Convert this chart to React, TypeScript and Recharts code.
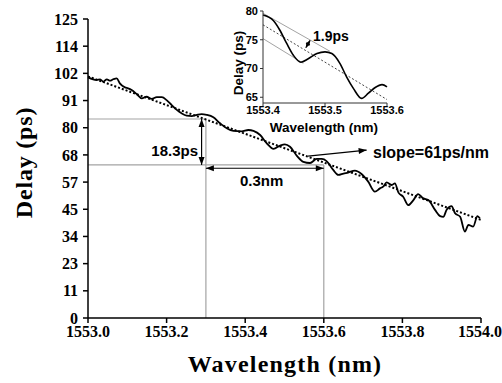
import React from 'react';
import { LineChart, Line, XAxis, YAxis, ReferenceLine } from 'recharts';

// main trace
const mainWl = [
  1553.0, 1553.022, 1553.031, 1553.039, 1553.048, 1553.056, 1553.064, 1553.073, 1553.081, 1553.094,
  1553.102, 1553.111, 1553.124, 1553.137, 1553.149, 1553.162, 1553.175, 1553.188, 1553.2, 1553.213,
  1553.226, 1553.238, 1553.251, 1553.264, 1553.277, 1553.289, 1553.302, 1553.319, 1553.336, 1553.353,
  1553.37, 1553.391, 1553.408, 1553.421, 1553.438, 1553.455, 1553.472, 1553.489, 1553.501, 1553.514,
  1553.531, 1553.548, 1553.565, 1553.582, 1553.595, 1553.607, 1553.624, 1553.637, 1553.65, 1553.662,
  1553.679, 1553.696, 1553.713, 1553.73, 1553.743, 1553.751, 1553.76, 1553.773, 1553.781, 1553.79,
  1553.802, 1553.815, 1553.828, 1553.84, 1553.853, 1553.866, 1553.883, 1553.896, 1553.904, 1553.913,
  1553.925, 1553.934, 1553.947, 1553.959, 1553.968, 1553.98, 1553.991, 1553.997,
];
const mainDelay = [
  100.6, 99.5, 99.8, 98.8, 99.8, 99.2, 99.8, 100.2, 98.1, 96.4,
  96.0, 95.3, 93.6, 91.8, 92.5, 91.6, 92.3, 92.3, 91.1, 89.0,
  87.0, 85.6, 84.6, 84.4, 84.9, 85.2, 84.9, 83.9, 81.4, 79.3,
  78.2, 78.0, 78.6, 78.2, 76.5, 73.0, 70.7, 72.1, 72.6, 71.6,
  67.9, 65.3, 64.8, 66.5, 66.5, 65.6, 61.9, 59.8, 60.4, 60.8,
  61.6, 60.2, 57.0, 52.8, 54.2, 54.9, 56.7, 55.6, 56.3, 52.4,
  50.7, 47.2, 49.3, 51.8, 50.0, 49.3, 45.2, 42.6, 42.3, 45.4,
  46.8, 43.8, 42.3, 36.1, 38.9, 38.2, 42.6, 41.7,
];
const fitWl = [1553.0, 1554.0];
const fitDelay = [101, 41];

const xTicks = [1553.0, 1553.2, 1553.4, 1553.6, 1553.8, 1554.0];
const yTickLabels = ['0', '11', '23', '34', '45', '57', '68', '80', '91', '102', '114', '125'];
const yTicks = yTickLabels.map((_, i) => (i * 125) / 11);

// annotation levels (ps) and marks (nm)
const upperLevel = 83.2;
const lowerLevel = 64;
const leftMark = 1553.3;
const rightMark = 1553.6;

// inset trace
const insetWl = [
  1553.4, 1553.417, 1553.427, 1553.438, 1553.449, 1553.461, 1553.473, 1553.487, 1553.5, 1553.511,
  1553.524, 1553.535, 1553.546, 1553.559, 1553.57, 1553.581, 1553.592, 1553.6,
];
const insetDelay = [
  79.3, 78.3, 76.7, 74.4, 72.3, 71.1, 71.7, 72.6, 72.9, 72.6,
  70.9, 68.5, 66.5, 64.8, 65.7, 66.7, 67.2, 66.8,
];
const insetFitWl = [1553.4, 1553.6];
const insetFitDelay = [77.6, 64.6];
const insetXTicks = [1553.4, 1553.5, 1553.6];
const insetYTicks = [65, 70, 75, 80];

const mainData = mainWl.map((x, i) => ({ x, y: mainDelay[i] }));
const fitData = fitWl.map((x, i) => ({ x, y: fitDelay[i] }));
const insetData = insetWl.map((x, i) => ({ x, y: insetDelay[i] }));
const insetFitData = insetFitWl.map((x, i) => ({ x, y: insetFitDelay[i] }));

const serif = '"Liberation Serif", "Times New Roman", serif';
const sans = '"Liberation Sans", Arial, sans-serif';

const head = (xa: number, ya: number, xb: number, yb: number, len = 8, w = 3) => {
  const a = Math.atan2(yb - ya, xb - xa);
  const c = Math.cos(a), s = Math.sin(a);
  const bx = xb - len * c, by = yb - len * s;
  return `${xb},${yb} ${bx - w * s},${by + w * c} ${bx + w * s},${by - w * c}`;
};

const Arrow = (p: any) => {
  const { x1, y1, x2, y2, start, end, small } = p;
  const len = small ? 5 : 8;
  const w = small ? 2.2 : 3;
  return (
    <g>
      <line x1={x1} y1={y1} x2={x2} y2={y2} stroke="#000" strokeWidth={1.2} />
      {start && <polygon points={head(x2, y2, x1, y1, len, w)} fill="#000" />}
      {end && <polygon points={head(x1, y1, x2, y2, len, w)} fill="#000" />}
    </g>
  );
};

const gray = '#a3a3a3';

export default function App() {
  return (
    <div style={{ position: 'absolute', left: 0, top: 0, width: 502, height: 383, background: '#fff' }}>
      <LineChart width={502} height={383} data={mainData} margin={{ top: 19, right: 21, bottom: 0, left: 0 }}>
        <XAxis
          dataKey="x"
          type="number"
          domain={[1553, 1554]}
          ticks={xTicks}
          tickFormatter={(v: number) => v.toFixed(1)}
          height={65}
          stroke="#000"
          strokeWidth={1.5}
          tickSize={5}
          tickMargin={3}
          tick={{ fill: '#000', fontFamily: serif, fontWeight: 'bold', fontSize: 16 }}
        />
        <YAxis
          type="number"
          domain={[0, 125]}
          ticks={yTicks}
          tickFormatter={(_v: number, i: number) => yTickLabels[i]}
          width={88}
          stroke="#000"
          strokeWidth={1.5}
          tickSize={5}
          tickMargin={5}
          tick={{ fill: '#000', fontFamily: serif, fontWeight: 'bold', fontSize: 16 }}
        />
        <ReferenceLine segment={[{ x: 1553.0, y: upperLevel }, { x: leftMark, y: upperLevel }]} stroke={gray} strokeWidth={1.2} />
        <ReferenceLine segment={[{ x: 1553.0, y: lowerLevel }, { x: rightMark, y: lowerLevel }]} stroke={gray} strokeWidth={1.2} />
        <ReferenceLine segment={[{ x: leftMark, y: 0 }, { x: leftMark, y: upperLevel }]} stroke={gray} strokeWidth={1.2} />
        <ReferenceLine segment={[{ x: rightMark, y: 0 }, { x: rightMark, y: lowerLevel }]} stroke={gray} strokeWidth={1.2} />
        <ReferenceLine
          segment={[{ x: 1553.289, y: upperLevel }, { x: 1553.289, y: lowerLevel }]}
          shape={(p: any) => <Arrow {...p} start end />}
        />
        <ReferenceLine
          segment={[{ x: leftMark, y: 62.6 }, { x: rightMark, y: 62.6 }]}
          shape={(p: any) => <Arrow {...p} start end />}
        />
        <ReferenceLine
          segment={[{ x: 1553.56, y: 67.7 }, { x: 1553.709, y: 70.2 }]}
          shape={(p: any) => <Arrow {...p} end />}
        />
        <Line data={fitData} dataKey="y" type="linear" stroke="#000" strokeWidth={2} strokeDasharray="2 2" dot={false} isAnimationActive={false} />
        <Line data={mainData} dataKey="y" type="monotone" stroke="#000" strokeWidth={1.8} dot={false} isAnimationActive={false} />
        <text x={198} y={150} textAnchor="end" dominantBaseline="central" fontFamily={sans} fontWeight="bold" fontSize={15}>18.3ps</text>
        <text x={240} y={180} dominantBaseline="central" fontFamily={sans} fontWeight="bold" fontSize={15}>0.3nm</text>
        <text x={373} y={152.7} dominantBaseline="central" fontFamily={sans} fontWeight="bold" fontSize={16}>slope=61ps/nm</text>
        <text x={285} y={372} textAnchor="middle" fontFamily={serif} fontWeight="bold" fontSize={24} letterSpacing={1.2}>Wavelength (nm)</text>
        <text x={24} y={162.5} textAnchor="middle" dominantBaseline="central" transform="rotate(-90 24 162.5)" fontFamily={serif} fontWeight="bold" fontSize={24} letterSpacing={0.8}>Delay (ps)</text>
      </LineChart>

      <div style={{ position: 'absolute', left: 225, top: 0 }}>
        <LineChart width={190} height={140} data={insetData} margin={{ top: 11, right: 28, bottom: 0, left: 0 }}>
          <XAxis
            dataKey="x"
            type="number"
            domain={[1553.4, 1553.6]}
            ticks={insetXTicks}
            tickFormatter={(v: number) => v.toFixed(1)}
            height={37}
            stroke="#333"
            tickSize={3}
            tickMargin={0}
            tick={{ fill: '#000', fontFamily: sans, fontWeight: 'bold', fontSize: 11 }}
          />
          <YAxis
            type="number"
            domain={[64, 80]}
            ticks={insetYTicks}
            width={38}
            stroke="#333"
            tickSize={3}
            tickMargin={2}
            tick={{ fill: '#000', fontFamily: sans, fontWeight: 'bold', fontSize: 11 }}
          />
          <ReferenceLine segment={[{ x: 1553.4, y: 79.6 }, { x: 1553.508, y: 73.0 }]} stroke={gray} strokeWidth={1} />
          <ReferenceLine segment={[{ x: 1553.4, y: 75.2 }, { x: 1553.465, y: 70.9 }]} stroke={gray} strokeWidth={1} />
          <ReferenceLine
            segment={[{ x: 1553.476, y: 74.9 }, { x: 1553.469, y: 73.6 }]}
            shape={(p: any) => <Arrow {...p} start end small />}
          />
          <Line data={insetFitData} dataKey="y" type="linear" stroke="#444" strokeWidth={1} strokeDasharray="2 2" dot={false} isAnimationActive={false} />
          <Line data={insetData} dataKey="y" type="monotone" stroke="#000" strokeWidth={1.6} dot={false} isAnimationActive={false} />
          <text x={88} y={36} dominantBaseline="central" fontFamily={sans} fontWeight="bold" fontSize={14}>1.9ps</text>
          <text x={99} y={127} textAnchor="middle" dominantBaseline="central" fontFamily={sans} fontWeight="bold" fontSize={13.5}>Wavelength (nm)</text>
          <text x={13} y={63} textAnchor="middle" dominantBaseline="central" transform="rotate(-90 13 63)" fontFamily={sans} fontWeight="bold" fontSize={13.5}>Delay (ps)</text>
        </LineChart>
      </div>
    </div>
  );
}
